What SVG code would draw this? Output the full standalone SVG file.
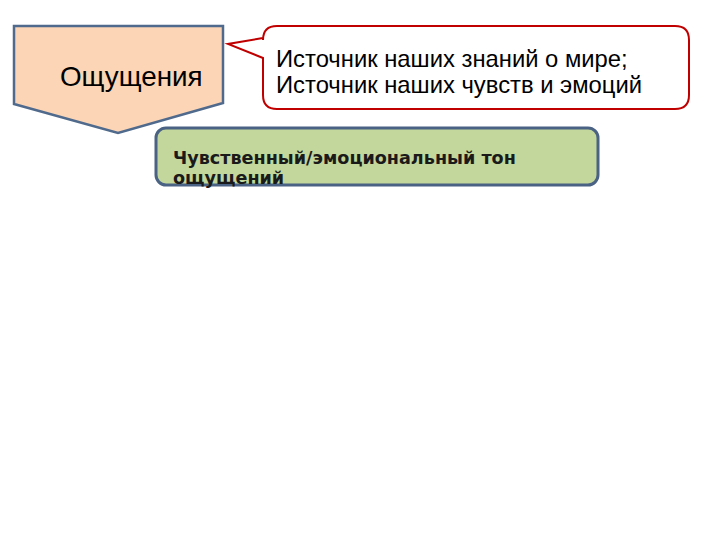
<svg xmlns="http://www.w3.org/2000/svg" width="720" height="540" viewBox="0 0 720 540">
<style>
.sans{font-family:"Liberation Sans",Arial,sans-serif;fill:#000}
.bold{font-family:"DejaVu Sans",Verdana,sans-serif;font-weight:bold;fill:#1a1a1a}
</style>
<rect width="720" height="540" fill="#fff"/>
<g id="sensations">
<polygon points="14,26 223,26 223,103 118,133 14,104" fill="#FBD5B5" stroke="#4F6A8C" stroke-width="2.5" stroke-linejoin="miter"/>
<text class="sans" x="60" y="86" font-size="27.8">Ощущения</text>
</g>
<g id="callout">
<path d="M277,26 H675 Q689,26 689,40 V95 Q689,109 675,109 H277 Q263,109 263,95 V58 L228,44 L263,38 V40 Q263,26 277,26 Z" fill="#fff" stroke="#C00000" stroke-width="2"/>
<text class="sans" x="276" y="67" font-size="23.8">Источник наших знаний о мире;</text>
<text class="sans" x="276" y="93" font-size="23.8">Источник наших чувств и эмоций</text>
</g>
<g id="tone">
<rect x="156" y="128" width="442" height="57" rx="10" fill="#C3D69B" stroke="#4A6283" stroke-width="3"/>
<text class="bold" x="173" y="164" font-size="17.6">Чувственный/эмоциональный тон</text>
<text class="bold" x="173" y="184" font-size="17.6">ощущений</text>
</g>
<g id="connectors"/>
</svg>
